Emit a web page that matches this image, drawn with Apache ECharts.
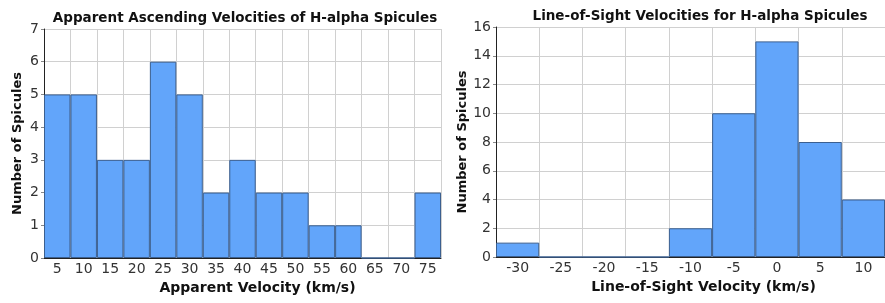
<!DOCTYPE html>
<html><head><meta charset="utf-8">
<script src="https://cdn.jsdelivr.net/npm/echarts@6/dist/echarts.min.js"></script>
<style>html,body{margin:0;padding:0;background:#fff}#c{width:885px;height:303px}</style>
</head><body><div id="c"></div>
<script>
const leftCategories = ['5','10','15','20','25','30','35','40','45','50','55','60','65','70','75'];
const leftValues = [5,5,3,3,6,5,2,3,2,2,1,1,0,0,2];
const rightCategories = ['-30','-25','-20','-15','-10','-5','0','5','10'];
const rightValues = [1,0,0,0,2,10,15,8,4];

const FONT = 'DejaVu Sans';
const chart = echarts.init(document.getElementById('c'));
const gridLine = {show:true, lineStyle:{color:'#d0d0d0', width:1}};
function xAxis(idx, cats, name, shift){
  return {type:'category', gridIndex:idx, data:cats, boundaryGap:true,
    name:name, nameLocation:'middle', nameGap:23,
    nameTextStyle:{fontFamily:FONT, fontWeight:'bold', fontSize:14, color:'#111', padding:[0,0,0,shift]},
    axisLine:{lineStyle:{color:'#222'}}, axisTick:{show:false},
    axisLabel:{fontFamily:FONT, fontSize:14, color:'#333', margin:4, interval:0},
    splitLine:gridLine};
}
function yAxis(idx, max, interval, gap){
  return {type:'value', gridIndex:idx, min:0, max:max, interval:interval,
    name:'Number of Spicules', nameLocation:'middle', nameGap:gap,
    nameTextStyle:{fontFamily:FONT, fontWeight:'bold', fontSize:13, color:'#111'},
    axisLine:{show:true, lineStyle:{color:'#222'}}, axisTick:{show:true, length:3, lineStyle:{color:'#888'}},
    axisLabel:{fontFamily:FONT, fontSize:14, color:'#333', margin:5},
    splitLine:gridLine};
}
const barStyle = {color:'#62a5fa', borderColor:'#3b5f8f', borderWidth:1};
chart.setOption({
  animation:false,
  title:[
    {text:'Apparent Ascending Velocities of H-alpha Spicules', left:240, top:6, textAlign:'center',
     textStyle:{fontFamily:FONT, fontWeight:'bold', fontSize:13.5, color:'#111'}},
    {text:'Line-of-Sight Velocities for H-alpha Spicules', left:695, top:4, textAlign:'center',
     textStyle:{fontFamily:FONT, fontWeight:'bold', fontSize:13.5, color:'#111'}}
  ],
  grid:[
    {left:44, top:29, width:397, height:229},
    {left:496, top:27, width:391, height:230}
  ],
  xAxis:[xAxis(0,leftCategories,'Apparent Velocity (km/s)',30), xAxis(1,rightCategories,'Line-of-Sight Velocity (km/s)',26)],
  yAxis:[yAxis(0,7,1,20), yAxis(1,16,2,27)],
  series:[
    {type:'bar', xAxisIndex:0, yAxisIndex:0, data:leftValues, barCategoryGap:'0%', itemStyle:barStyle},
    {type:'bar', xAxisIndex:1, yAxisIndex:1, data:rightValues, barCategoryGap:'0%', itemStyle:barStyle}
  ]
});
</script></body></html>
